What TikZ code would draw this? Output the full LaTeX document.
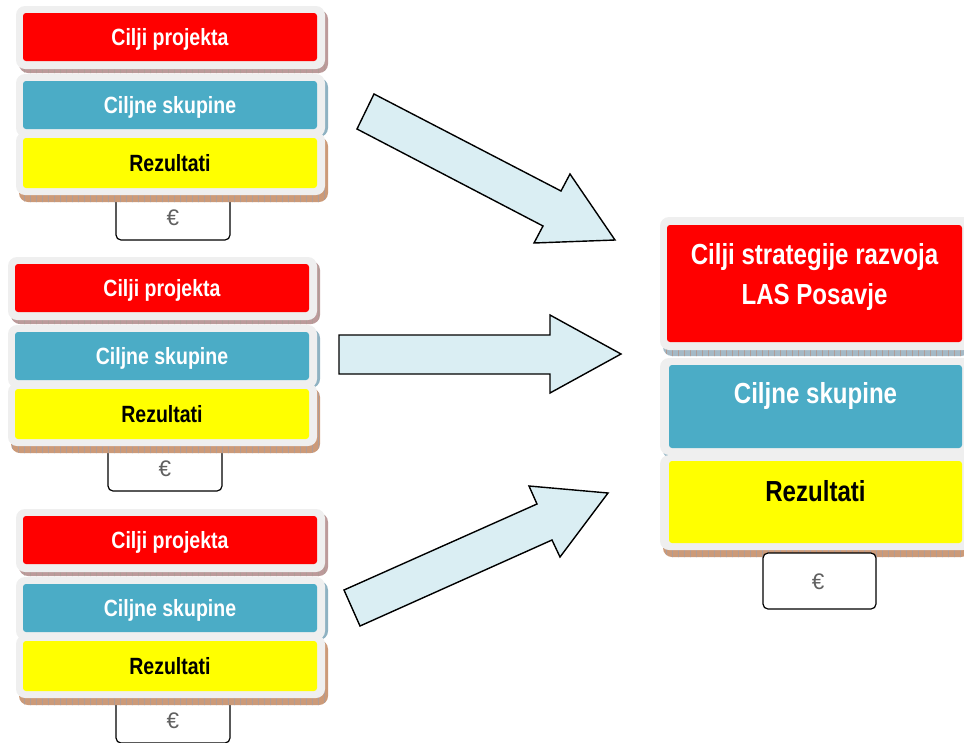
\documentclass[tikz,border=0pt]{standalone}
\usepackage{fontspec}
\usetikzlibrary{patterns.meta}
\setmainfont{Liberation Sans}
\newfontfamily\narrowfont{Liberation Sans}[FakeStretch=0.83]
\definecolor{cred}{HTML}{FF0000}
\definecolor{cblue}{HTML}{4BACC6}
\definecolor{cyel}{HTML}{FFFF00}
\definecolor{framegray}{HTML}{EFEFEF}
\definecolor{arrowfill}{HTML}{DAEEF3}
\definecolor{shred}{HTML}{BC9A9A}
\definecolor{shblue}{HTML}{8FB2C2}
\definecolor{shgray}{HTML}{A4B9C6}
\definecolor{shyel}{HTML}{CC9A78}
\definecolor{hatch}{HTML}{7A5A50}
\definecolor{eurogray}{HTML}{606060}
\tikzset{
  frame/.style={fill=framegray, rounded corners=9pt},
  shadowbox/.style={rounded corners=9pt},
  hatchbox/.style={rounded corners=9pt, pattern={Lines[angle=90,distance=6pt,line width=0.4pt]}, pattern color=hatch!60},
  cbox/.style={rectangle, rounded corners=3pt, inner sep=0pt, text height=17pt, text depth=0pt, font=\narrowfont\bfseries\fontsize{23.5}{28}\selectfont},
  plainbox/.style={rectangle, rounded corners=3pt, inner sep=0pt},
  bigtext/.style={align=center, inner sep=0pt, font=\narrowfont\bfseries\fontsize{29}{40}\selectfont},
  eurobox/.style={draw=black, line width=1.2pt, fill=white, rounded corners=5pt},
  euro/.style={text=eurogray, inner sep=0pt, font=\fontsize{22.5}{26}\selectfont},
  blockarrow/.style={draw=black, line width=1.4pt, fill=arrowfill, line join=miter}
}
\newcommand\leftgrp[3]{%
\begin{scope}[shift={(#2,#3)}]
  \draw[eurobox] (116,180) |- (230,240) -- (230,180);
  \node[euro] (#1e) at (173,218) {€};
  \fill[shred, shadowbox] (19,10) rectangle (328,73);
  \fill[hatchbox] (19,10) rectangle (328,73);
  \fill[shblue, shadowbox] (19,78) rectangle (328,137);
  \fill[shyel, shadowbox] (19,137) rectangle (328,202);
  \fill[hatchbox] (19,137) rectangle (328,202);
  \fill[frame] (16,6) rectangle (325,69);
  \fill[frame] (16,74) rectangle (325,137);
  \fill[frame] (16,132) rectangle (325,195);
  \node[cbox, fill=cred, text=white, minimum width=294pt, minimum height=48pt] (#1r) at (170,37) {Cilji projekta};
  \node[cbox, fill=cblue, text=white, minimum width=294pt, minimum height=48pt] (#1b) at (170,105) {Ciljne skupine};
  \node[cbox, fill=cyel, text=black, minimum width=294pt, minimum height=50pt] (#1y) at (170,163) {Rezultati};
\end{scope}}
\begin{document}
\begin{tikzpicture}[x=1pt,y=-1pt]
\useasboundingbox (0,0) rectangle (964,742);
\clip (0,0) rectangle (964,742);
\leftgrp{ga}{0}{0}
\leftgrp{gb}{-8}{251}
\leftgrp{gc}{0}{503}
% right group
\fill[shgray, shadowbox] (663,222) rectangle (970,356);
\fill[hatchbox] (663,222) rectangle (970,356);
\fill[shblue, shadowbox] (663,362) rectangle (970,459);
\fill[shyel, shadowbox] (663,459) rectangle (970,557);
\fill[hatchbox] (663,459) rectangle (970,557);
\fill[frame] (660,217) rectangle (972,350);
\fill[frame] (660,358) rectangle (972,455);
\fill[frame] (660,455) rectangle (972,550);
\node[plainbox, fill=cred, minimum width=295pt, minimum height=117pt] (rr) at (814.5,283.5) {};
\node[plainbox, fill=cblue, minimum width=293pt, minimum height=83pt] (rb) at (815.5,406.5) {};
\node[plainbox, fill=cyel, minimum width=293pt, minimum height=82pt] (ry) at (815.5,502) {};
\node[bigtext, text=white] (rrt) at (814.5,277) {Cilji strategije razvoja\\LAS Posavje};
\node[bigtext, text=white] (rbt) at (815.5,396) {Ciljne skupine};
\node[bigtext, text=black] (ryt) at (815.5,491) {Rezultati};
\draw[eurobox] (763,553) rectangle (876,609);
\node[euro] (re) at (818,582) {€};
% block arrows
\draw[blockarrow] (374,94) -- (561,191) -- (570,174) -- (615,240) -- (534,243) -- (543,226) -- (357,129) -- cycle;
\draw[blockarrow] (339,335) -- (550,335) -- (550,315) -- (621,354) -- (550,393) -- (550,374) -- (339,374) -- cycle;
\draw[blockarrow] (344,590) -- (537,504) -- (529,486) -- (608,493) -- (560,557) -- (552,540) -- (360,626) -- cycle;
\end{tikzpicture}
\end{document}
